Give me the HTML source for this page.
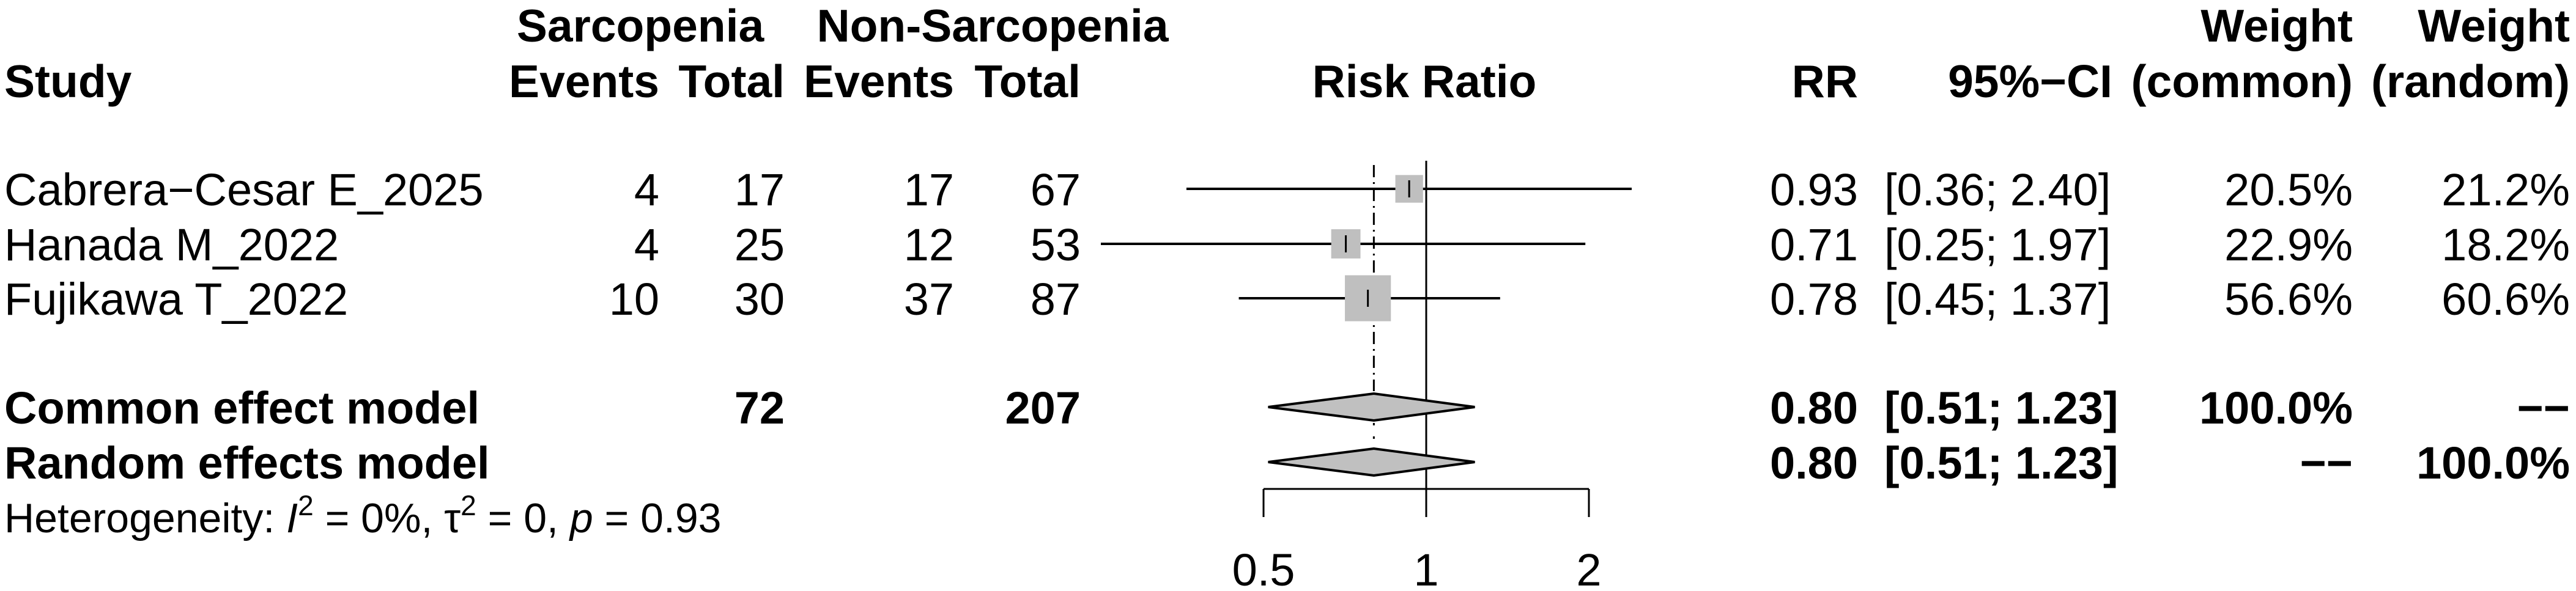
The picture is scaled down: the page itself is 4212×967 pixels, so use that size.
<!DOCTYPE html>
<html><head><meta charset="utf-8"><style>
html,body{margin:0;padding:0;background:#fff;}
svg{display:block;}
text{font-family:"Liberation Sans",Arial,sans-serif;fill:#000;}
.b{font-weight:bold;}
</style></head><body>
<svg id="fp" width="4212" height="967" viewBox="0 0 4212 967" xmlns="http://www.w3.org/2000/svg">
<g font-size="75">
<text class="b" x="1047" y="68" text-anchor="middle">Sarcopenia</text>
<text class="b" x="1623" y="68" text-anchor="middle">Non-Sarcopenia</text>
<text class="b" x="3847" y="68" text-anchor="end">Weight</text>
<text class="b" x="4202" y="68" text-anchor="end">Weight</text>
<text class="b" x="7" y="159">Study</text>
<text class="b" x="1078" y="159" text-anchor="end">Events</text>
<text class="b" x="1283" y="159" text-anchor="end">Total</text>
<text class="b" x="1560" y="159" text-anchor="end">Events</text>
<text class="b" x="1767" y="159" text-anchor="end">Total</text>
<text class="b" x="2329" y="159" text-anchor="middle">Risk Ratio</text>
<text class="b" x="3038" y="159" text-anchor="end">RR</text>
<text class="b" x="3454" y="159" text-anchor="end">95%−CI</text>
<text class="b" x="3847" y="159" text-anchor="end">(common)</text>
<text class="b" x="4202" y="159" text-anchor="end">(random)</text>
</g>
<g id="rows" font-size="74"></g>
<g id="plot"></g>
<text x="7" y="871" font-size="68">Heterogeneity: <tspan font-style="italic">I</tspan><tspan dy="-28" font-size="46">2</tspan><tspan dy="28"> = 0%, τ</tspan><tspan dy="-28" font-size="46">2</tspan><tspan dy="28"> = 0, </tspan><tspan font-style="italic">p</tspan> = 0.93</text>
</svg>
<script>
const studies=["Cabrera−Cesar E_2025","Hanada M_2022","Fujikawa T_2022"];
const evS=[4,4,10];
const totS=[17,25,30];
const evN=[17,12,37];
const totN=[67,53,87];
const rr=[0.93,0.71,0.78];
const lo=[0.36,0.25,0.45];
const hi=[2.40,1.97,1.37];
const wCommon=[20.5,22.9,56.6];
const wRandom=[21.2,18.2,60.6];
const pooledRR=[0.80,0.80];
const pooledLo=[0.51,0.51];
const pooledHi=[1.23,1.23];
const ticks=[0.5,1,2];

const NS="http://www.w3.org/2000/svg";
const xS=v=>2332+266*Math.log2(v);
const rowY=[309,399,488];
const poolY=[666,756];
const rows=document.getElementById('rows');
const plot=document.getElementById('plot');
function el(tag,attrs,parent,txt){const e=document.createElementNS(NS,tag);for(const k in attrs)e.setAttribute(k,attrs[k]);if(txt!==undefined)e.textContent=txt;parent.appendChild(e);return e;}
function t(x,y,s,anchor,bold,name){const e=el('text',{x:x,y:y,'text-anchor':anchor||'start'},rows,s);if(bold)e.setAttribute('class','b');

return e;}
const f2=v=>v.toFixed(2);
studies.forEach((s,i)=>{const y=rowY[i]+27;
t(7,y,s,'start',false,'study-name');
t(1078,y,evS[i],'end',false,'events-sarc');
t(1283,y,totS[i],'end',false,'total-sarc');
t(1560,y,evN[i],'end',false,'events-non');
t(1767,y,totN[i],'end',false,'total-non');
t(3038,y,f2(rr[i]),'end',false,'rr-value');
t(3081,y,'['+f2(lo[i])+'; '+f2(hi[i])+']','start',false,'ci-value');
t(3847,y,wCommon[i].toFixed(1)+'%','end',false,'weight-common');
t(4202,y,wRandom[i].toFixed(1)+'%','end',false,'weight-random');
});
const pnames=["Common effect model","Random effects model"];
pnames.forEach((s,i)=>{const y=poolY[i]+27;
t(7,y,s,'start',true,'pooled-label');
t(3038,y,f2(pooledRR[i]),'end',true,'pooled-rr');
t(3081,y,'['+f2(pooledLo[i])+'; '+f2(pooledHi[i])+']','start',true,'pooled-ci');
});
t(1283,poolY[0]+27,totS.reduce((a,b)=>a+b,0),'end',true,'total-sarc-sum');
t(1767,poolY[0]+27,totN.reduce((a,b)=>a+b,0),'end',true,'total-non-sum');
t(3847,poolY[0]+27,'100.0%','end',true,'pooled-weight-common');
t(4202,poolY[0]+27,'−−','end',true,'pooled-weight-random');
t(3847,poolY[1]+27,'−−','end',true,'pooled-weight-common');
t(4202,poolY[1]+27,'100.0%','end',true,'pooled-weight-random');

let l=el('line',{x1:xS(1),x2:xS(1),y1:263,y2:846,stroke:'#000','stroke-width':3},plot);


l=el('line',{x1:xS(pooledRR[0]),x2:xS(pooledRR[0]),y1:270,y2:640,stroke:'#000','stroke-width':3,'stroke-dasharray':'20 8 3 8'},plot);


l=el('line',{x1:xS(pooledRR[1]),x2:xS(pooledRR[1]),y1:692,y2:730,stroke:'#000','stroke-width':3,'stroke-dasharray':'4 18'},plot);


studies.forEach((s,i)=>{const y=rowY[i];
let c=el('line',{x1:xS(lo[i]),x2:xS(hi[i]),y1:y,y2:y,stroke:'#000','stroke-width':4},plot);


const sz=10*Math.sqrt(wCommon[i]);
let r=el('rect',{x:xS(rr[i])-sz/2,y:y-sz/2,width:sz,height:sz,fill:'#bfbfbf'},plot);


let p=el('line',{x1:xS(rr[i]),x2:xS(rr[i]),y1:y-14,y2:y+14,stroke:'#000','stroke-width':3},plot);


});
pooledRR.forEach((v,i)=>{const y=poolY[i];
const pts=[[xS(pooledLo[i]),y],[xS(v),y-22],[xS(pooledHi[i]),y],[xS(v),y+22]].map(p=>p.join(',')).join(' ');
let d=el('polygon',{points:pts,fill:'#c0c0c0',stroke:'#000','stroke-width':4,'stroke-linejoin':'miter'},plot);


});
let ax=el('line',{x1:xS(ticks[0]),x2:xS(ticks[ticks.length-1]),y1:800,y2:800,stroke:'#000','stroke-width':3},plot);


ticks.forEach(v=>{
let tk=el('line',{x1:xS(v),x2:xS(v),y1:800,y2:846,stroke:'#000','stroke-width':3},plot);


let tl=el('text',{x:xS(v),y:958,'text-anchor':'middle','font-size':74},plot,String(v));


});
</script>
</body></html>
